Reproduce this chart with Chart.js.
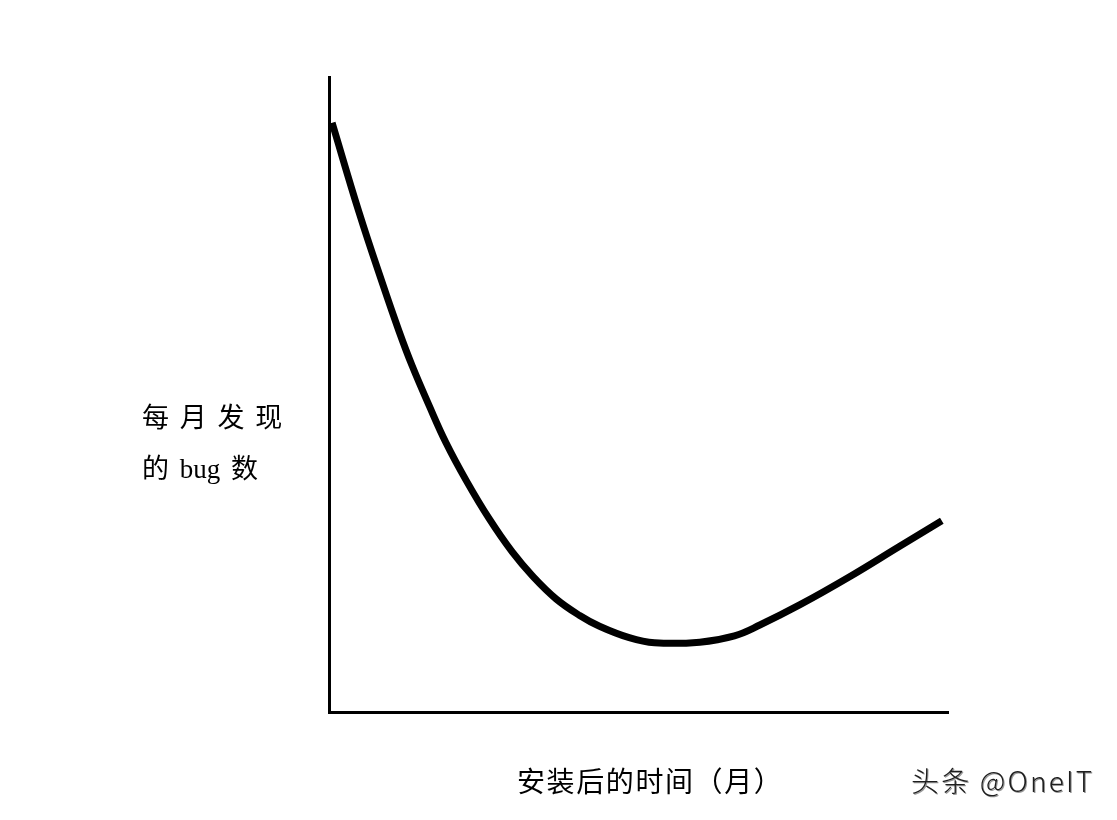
<!DOCTYPE html>
<html lang="zh">
<head>
<meta charset="utf-8">
<title>每月发现的bug数</title>
<script src="https://cdn.jsdelivr.net/npm/chart.js@4/dist/chart.umd.min.js"></script>
<style>
html, body { margin: 0; padding: 0; background: #fff; }
#wrap { position: relative; width: 1117px; height: 820px; }
#wrap canvas { position: absolute; left: 0; top: 0; }
.lbl { position: absolute; color: #000; font-family: "Liberation Serif", "Noto Sans CJK SC", serif; white-space: nowrap; }
#ylab { left: 142px; top: 393px; font-size: 27px; line-height: 51px; word-spacing: 4px; }
#xlab { left: 517px; top: 760px; font-size: 28px; letter-spacing: 1.6px; }
#mark { left: 911px; top: 760px; font-size: 28px; letter-spacing: 2.2px; color: #1e1e1e; font-family: "Noto Sans CJK SC", "DejaVu Sans", sans-serif; font-weight: 300; text-shadow: 1px 1px 0 #999; }
</style>
</head>
<body>
<div id="wrap">
  <canvas id="chart" width="1117" height="820"></canvas>
  <div class="lbl" id="ylab">每 月 发 现<br>的 bug 数</div>
  <div class="lbl" id="xlab">安装后的时间（月）</div>
  <div class="lbl" id="mark">头条 @OneIT</div>
</div>
<script>
// time after install (arbitrary units, 0..100) and bugs found per month (0..100)
const months = [0.5, 4.85, 8.6, 11.3, 13.4, 16.2, 18.9, 22.2, 25.9, 29.6, 32.9, 36.7, 40.5, 43.7, 48.5, 52.6, 59.9, 65.5, 69.6, 76.1, 84.1, 92.2, 99.0];
const bugs   = [92.8, 78.7, 67.6, 60.0, 54.6, 48.2, 42.4, 36.4, 30.4, 25.2, 21.4, 17.8, 15.2, 13.5, 11.7, 10.9, 11.0, 12.0, 13.7, 16.9, 21.3, 26.1, 30.1];

const points = months.map((m, i) => ({x: m, y: bugs[i]}));

new Chart(document.getElementById('chart'), {
  type: 'line',
  data: {
    datasets: [{
      data: points,
      borderColor: '#000',
      borderWidth: 7,
      pointRadius: 0,
      fill: false,
      tension: 0.4,
      borderCapStyle: 'butt'
    }]
  },
  options: {
    responsive: false,
    animation: false,
    layout: { padding: { left: 329, top: 77, right: 169, bottom: 108 } },
    plugins: { legend: { display: false }, tooltip: { enabled: false } },
    scales: {
      x: {
        type: 'linear', min: 0, max: 100,
        ticks: { display: false },
        grid: { display: false, drawTicks: false },
        border: { display: true, color: '#000', width: 3 }
      },
      y: {
        min: 0, max: 100,
        ticks: { display: false },
        grid: { display: false, drawTicks: false },
        border: { display: true, color: '#000', width: 3 }
      }
    }
  }
});
</script>
</body>
</html>
